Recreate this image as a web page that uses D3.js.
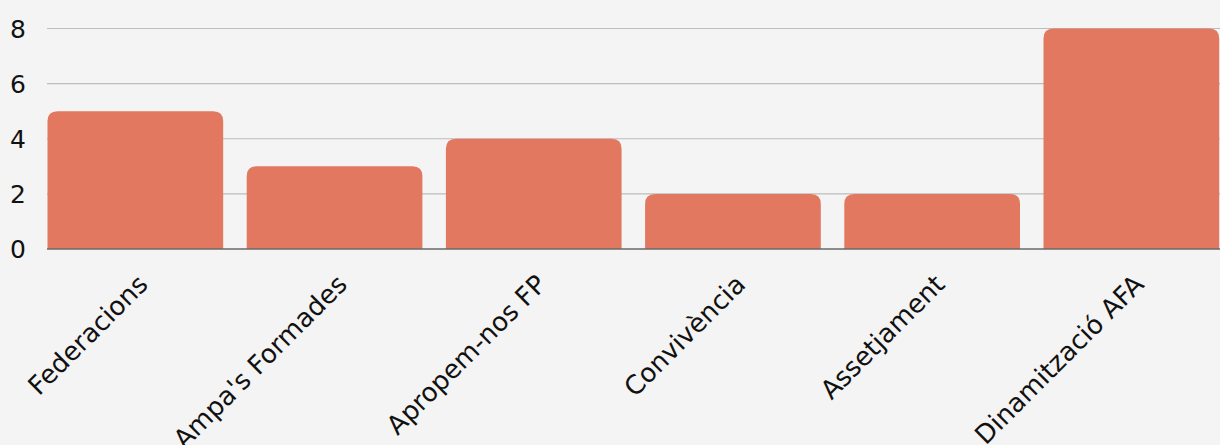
<!DOCTYPE html>
<html><head><meta charset="utf-8">
<script src="https://cdn.jsdelivr.net/npm/d3@7"></script>
<style>
html,body{margin:0;padding:0;background:#f4f4f4;}
svg{display:block;}
</style></head>
<body>
<script>
const categories = ["Federacions","Ampa's Formades","Apropem-nos FP","Convivència","Assetjament","Dinamització AFA"];
const values = [5,3,4,2,2,8];
const yTicks = [0,2,4,6,8];

(function(){
const W = 1220, H = 445;
const mLeft = 47.5, mRight = 1219.2, mTop = 28.5, mBottom = 249;
const fontFam = "'DejaVu Sans', sans-serif";

const svg = d3.select("body").append("svg").attr("width", W).attr("height", H);
svg.append("rect").attr("width", W).attr("height", H).attr("fill", "#f4f4f4");

const x = d3.scaleBand().domain(categories).range([mLeft, mRight]).paddingInner(0.118).paddingOuter(0);
const y = d3.scaleLinear().domain([0, 8]).range([mBottom, mTop]);

svg.append("g").selectAll("line").data(yTicks.filter(d => d > 0)).join("line")
  .attr("x1", mLeft - 0.5).attr("x2", W).attr("y1", d => y(d)).attr("y2", d => y(d))
  .attr("stroke", "#bdbdbd").attr("stroke-width", 1.2);

svg.append("g").selectAll("text").data(yTicks).join("text")
  .attr("x", 26).attr("y", d => y(d)).attr("dy", "0.36em")
  .attr("text-anchor", "end").attr("font-family", fontFam).attr("font-size", 25)
  .attr("fill", "#111").text(d => d);

const r = 10;
function barPath(x0, w, yTop, yBot) {
  const rr = Math.min(r, (yBot - yTop), w / 2);
  return `M${x0},${yBot} L${x0},${yTop + rr} Q${x0},${yTop} ${x0 + rr},${yTop} L${x0 + w - rr},${yTop} Q${x0 + w},${yTop} ${x0 + w},${yTop + rr} L${x0 + w},${yBot} Z`;
}
svg.append("g").selectAll("path").data(categories).join("path")
  .attr("d", (c, i) => barPath(x(c), x.bandwidth(), y(values[i]), y(0)))
  .attr("fill", "#e2785f");

svg.append("line").attr("x1", mLeft - 0.5).attr("x2", W).attr("y1", y(0)).attr("y2", y(0))
  .attr("stroke", "#6a6a6a").attr("stroke-width", 1.5);

svg.append("g").selectAll("text").data(categories).join("text")
  .attr("transform", c => `translate(${x(c) + x.bandwidth() / 2 + 14},${mBottom + 37}) rotate(-45)`)
  .attr("text-anchor", "end").attr("font-family", fontFam).attr("font-size", 26)
  .attr("fill", "#111").text(c => c);
})();
</script>
</body></html>
